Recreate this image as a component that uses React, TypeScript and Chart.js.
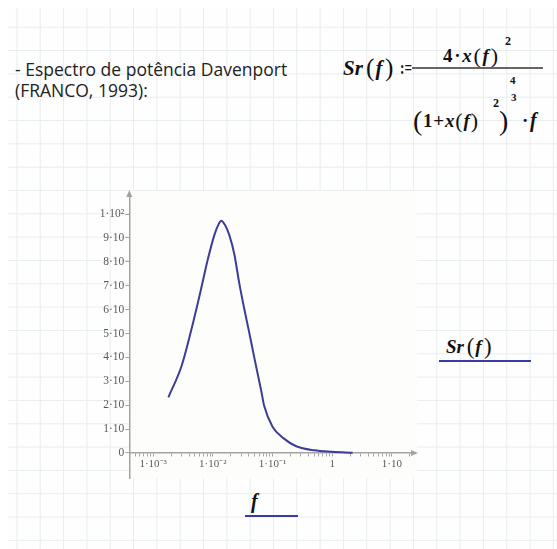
import React, { useEffect, useRef } from "react";
import { Chart, registerables } from "chart.js";

Chart.register(...registerables);

// ---- data ----
const frequencies = [
  0.0018, 0.003, 0.0044, 0.006, 0.0083, 0.0106, 0.0125, 0.0138, 0.016, 0.019,
  0.023, 0.0275, 0.033, 0.04, 0.05, 0.065, 0.0726, 0.1, 0.15, 0.25, 0.5, 1, 2.2,
];
const srValues = [
  23.3, 36.5, 52, 66, 81.4, 91.2, 95.8, 97.2, 95.4, 91,
  83, 71.5, 61.3, 51.3, 39.4, 25.7, 19.6, 11, 6.3, 2.8, 1.1, 0.5, 0.1,
];
const yTickValues = [0, 10, 20, 30, 40, 50, 60, 70, 80, 90, 100];
const yTickLabels = ["0", "1·10", "2·10", "3·10", "4·10", "5·10", "6·10", "7·10", "8·10", "9·10", "1·10²"];
const xDecadeValues = [0.001, 0.01, 0.1, 1, 10];
const xDecadeLabels = ["1·10⁻³", "1·10⁻²", "1·10⁻¹", "1", "1·10"];
const xDecadeStarts = [0.0001, 0.001, 0.01, 0.1, 1, 10];
const xMinorMultipliers = [1, 2, 3, 4, 5, 6, 7, 8, 9];
const xRange = [0.000398, 22.6];
const yRange = [-10.5, 108];

const AXIS_GREY = "#a3a3a3";
const CURVE_BLUE = "#3d3d98";

const xTickValues: number[] = [];
xDecadeStarts.forEach((d) =>
  xMinorMultipliers.forEach((m) => {
    const v = d * m;
    if (v > xRange[0] && v < xRange[1]) xTickValues.push(v);
  })
);

const decorPlugin = {
  id: "decor",
  beforeDraw(chart: any) {
    const { ctx, chartArea: a } = chart;
    ctx.save();
    ctx.fillStyle = "rgba(253,254,252,0.9)";
    ctx.fillRect(a.left, a.top - 4, a.right - a.left + 4, a.bottom - a.top + 4);
    ctx.restore();
  },
  afterDraw(chart: any) {
    const { ctx, chartArea: a, scales } = chart;
    const y0 = scales.y.getPixelForValue(0);
    ctx.save();
    ctx.fillStyle = AXIS_GREY;
    ctx.beginPath();
    ctx.moveTo(a.left, a.top - 5);
    ctx.lineTo(a.left - 3, a.top + 2);
    ctx.lineTo(a.left + 3, a.top + 2);
    ctx.closePath();
    ctx.fill();
    ctx.beginPath();
    ctx.moveTo(a.right + 5, y0);
    ctx.lineTo(a.right - 2, y0 - 3);
    ctx.lineTo(a.right - 2, y0 + 3);
    ctx.closePath();
    ctx.fill();
    ctx.restore();
  },
};

function PlotChart() {
  const ref = useRef<HTMLCanvasElement | null>(null);
  useEffect(() => {
    if (!ref.current) return;
    const chart = new Chart(ref.current, {
      type: "line",
      data: {
        datasets: [
          {
            data: frequencies.map((f, i) => ({ x: f, y: srValues[i] })),
            borderColor: CURVE_BLUE,
            borderWidth: 2,
            pointRadius: 0,
            cubicInterpolationMode: "monotone",
            fill: false,
          },
        ],
      },
      options: {
        animation: false,
        responsive: false,
        devicePixelRatio: 1,
        layout: { padding: { left: 0, right: 17, top: 15, bottom: 12 } },
        plugins: { legend: { display: false }, tooltip: { enabled: false } },
        scales: {
          x: {
            type: "logarithmic",
            position: { y: 0 } as any,
            min: xRange[0],
            max: xRange[1],
            afterBuildTicks: (scale: any) => {
              scale.ticks = xTickValues.map((v) => ({ value: v }));
            },
            grid: { drawOnChartArea: false, drawTicks: true, tickLength: 3, color: AXIS_GREY, lineWidth: 1 },
            border: { display: true, color: AXIS_GREY, width: 1.5 },
            ticks: {
              autoSkip: false,
              maxRotation: 0,
              padding: 2,
              color: "#5a5a5a",
              font: { family: "'Liberation Serif', serif", size: 11 },
              callback: (value: any) => {
                const i = xDecadeValues.findIndex((d) => Math.abs(d - Number(value)) / d < 1e-6);
                return i >= 0 ? xDecadeLabels[i] : "";
              },
            },
          },
          y: {
            type: "linear",
            position: "left",
            min: yRange[0],
            max: yRange[1],
            afterFit: (scale: any) => {
              scale.width = 59.3;
            },
            afterBuildTicks: (scale: any) => {
              scale.ticks = yTickValues.map((v) => ({ value: v }));
            },
            grid: { drawOnChartArea: false, drawTicks: true, tickLength: 4, color: AXIS_GREY, lineWidth: 1 },
            border: { display: true, color: AXIS_GREY, width: 1.5 },
            ticks: {
              padding: 1,
              color: "#5a5a5a",
              font: { family: "'Liberation Serif', serif", size: 11.5 },
              callback: (value: any) => {
                const i = yTickValues.indexOf(Number(value));
                return i >= 0 ? yTickLabels[i] : "";
              },
            },
          },
        },
      },
      plugins: [decorPlugin],
    } as any);
    return () => chart.destroy();
  }, []);
  return (
    <canvas
      ref={ref}
      width={360}
      height={310}
      style={{ position: "absolute", left: 70, top: 180, width: 360, height: 310 }}
    />
  );
}

const serif = "'Liberation Serif', 'DejaVu Serif', serif";

function SrF({ x, y, size }: { x: number; y: number; size: number }) {
  return (
    <text x={x} y={y} fontSize={size}>
      <tspan fontStyle="italic">Sr</tspan>
      <tspan fontSize={size * 1.2} fontWeight="normal" dx={size * 0.15} dy={1}>(</tspan>
      <tspan fontStyle="italic" dx={size * 0.05} dy={-1}>f</tspan>
      <tspan fontSize={size * 1.2} fontWeight="normal" dx={size * 0.12} dy={1}>)</tspan>
    </text>
  );
}

export default function App() {
  useEffect(() => {
    document.body.style.margin = "0";
  }, []);
  const grid = "#e8edef";
  return (
    <div style={{ position: "relative", width: 557, height: 549, background: "#fff", overflow: "hidden" }}>
      <div
        style={{
          position: "absolute",
          left: 8,
          top: 8,
          width: 549,
          height: 541,
          backgroundColor: "#fdfefd",
          backgroundImage: `linear-gradient(to right, ${grid} 1px, transparent 1px), linear-gradient(to bottom, ${grid} 1px, transparent 1px)`,
          backgroundSize: "23.33px 23.33px",
          backgroundPosition: "8.4px 18.7px",
        }}
      />
      <svg width={557} height={549} style={{ position: "absolute", left: 0, top: 0 }}>
        <g fontFamily="'Open Sans', sans-serif" fontSize={17.5} fill="#222">
          <text x={15} y={76}>- Espectro de potência Davenport</text>
          <text x={15} y={97}>(FRANCO, 1993):</text>
        </g>
        <g fontFamily={serif} fill="#111" fontWeight="bold">
          {/* left side: Sr(f) := */}
          <SrF x={343} y={75} size={21} />
          <text x={400} y={74} fontSize={18} textLength={12} lengthAdjust="spacingAndGlyphs">:=</text>
          <line x1={412} y1={68} x2={543} y2={68} stroke="#333" strokeWidth={1.3} />
          {/* numerator */}
          <text x={443} y={62} fontSize={19} textLength={55} lengthAdjust="spacing">
            <tspan>4·</tspan>
            <tspan fontStyle="italic">x</tspan>
            <tspan fontSize={22} fontWeight="normal" dy={1}>(</tspan>
            <tspan fontStyle="italic" dy={-1}>f</tspan>
            <tspan fontSize={22} fontWeight="normal" dy={1}>)</tspan>
          </text>
          <text x={505} y={45} fontSize={12}>2</text>
          {/* denominator */}
          <text x={413} y={130} fontSize={28} fontWeight="normal">(</text>
          <text x={423} y={127} fontSize={19} textLength={55} lengthAdjust="spacing">
            <tspan>1+</tspan>
            <tspan fontStyle="italic">x</tspan>
            <tspan fontSize={22} fontWeight="normal" dy={1}>(</tspan>
            <tspan fontStyle="italic" dy={-1}>f</tspan>
            <tspan fontSize={22} fontWeight="normal" dy={1}>)</tspan>
          </text>
          <text x={493} y={107} fontSize={12}>2</text>
          <text x={499} y={130} fontSize={28} fontWeight="normal">)</text>
          <text x={510} y={84} fontSize={11}>4</text>
          <text x={511} y={101} fontSize={11}>3</text>
          <text x={522} y={127} fontSize={19}>·</text>
          <text x={530} y={127} fontSize={20} fontStyle="italic">f</text>
          {/* right label */}
          <SrF x={446} y={353} size={19} />
          {/* bottom label */}
          <text x={251} y={508} fontSize={20} fontStyle="italic">f</text>
        </g>
        <line x1={439} y1={361} x2={531} y2={361} stroke="#3a3aa8" strokeWidth={2} />
        <line x1={245} y1={516} x2={298} y2={516} stroke="#3a3aa8" strokeWidth={2} />
      </svg>
      <PlotChart />
    </div>
  );
}
